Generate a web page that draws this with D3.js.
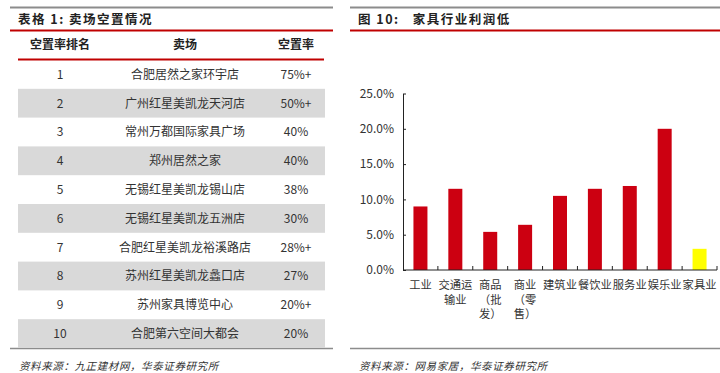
<!DOCTYPE html>
<html>
<head>
<meta charset="utf-8">
<script src="https://cdn.jsdelivr.net/npm/d3@7"></script>
<style>
  body { margin: 0; background: #fff; }
  svg text { font-family: "Noto Sans CJK SC", "Liberation Sans", sans-serif; white-space: pre; }
</style>
</head>
<body>
<svg id="chart" width="720" height="373"></svg>
<script>
// ---- table data ----
var tableHeaders = ["空置率排名", "卖场", "空置率"];
var ranks = ["1", "2", "3", "4", "5", "6", "7", "8", "9", "10"];
var stores = ["合肥居然之家环宇店", "广州红星美凯龙天河店", "常州万都国际家具广场", "郑州居然之家",
              "无锡红星美凯龙锡山店", "无锡红星美凯龙五洲店", "合肥红星美凯龙裕溪路店",
              "苏州红星美凯龙蠡口店", "苏州家具博览中心", "合肥第六空间大都会"];
var vacancy = ["75%+", "50%+", "40%", "40%", "38%", "30%", "28%+", "27%", "20%+", "20%"];

// ---- bar chart data ----
var categories = ["工业", "交通运输业", "商品（批发）", "商业（零售）", "建筑业", "餐饮业", "服务业", "娱乐业", "家具业"];
var labelLines = [["工业"], ["交通运", "输业"], ["商品", "（批", "发）"], ["商业", "（零", "售）"],
                  ["建筑业"], ["餐饮业"], ["服务业"], ["娱乐业"], ["家具业"]];
var profit = [0.090, 0.115, 0.054, 0.064, 0.105, 0.115, 0.119, 0.200, 0.030];
var yTicks = [0, 0.05, 0.10, 0.15, 0.20, 0.25];

var svg = d3.select("#chart");
var RED = "#c00000", GRAY = "#8c8c8c";

// ===== panel frames =====
function frame(x0, x1, title, source) {
  svg.append("line").attr("x1", x0).attr("x2", x1).attr("y1", 7.5).attr("y2", 7.5)
     .attr("stroke", GRAY).attr("stroke-width", 2);
  svg.append("line").attr("x1", x0).attr("x2", x1).attr("y1", 30.5).attr("y2", 30.5)
     .attr("stroke", RED).attr("stroke-width", 2);
  svg.append("text").attr("x", x0 + 8).attr("y", 24).attr("font-size", 12.5)
     .attr("font-weight", "bold").attr("fill", "#222").attr("letter-spacing", 1.5).text(title);
  svg.append("line").attr("x1", x0).attr("x2", x1).attr("y1", 348.5).attr("y2", 348.5)
     .attr("stroke", GRAY).attr("stroke-width", 1.5);
  svg.append("text").attr("x", x0 + 9).attr("y", 370).attr("font-size", 10.5)
     .attr("font-style", "italic").attr("fill", "#333").attr("letter-spacing", 0.6).text(source);
}
frame(10, 333, "表格 1: 卖场空置情况", "资料来源：九正建材网，华泰证券研究所");
frame(350, 720, "图 10:   家具行业利润低", "资料来源：网易家居，华泰证券研究所");

// ===== table =====
var tbl = svg.append("g");
var colX = [60, 185, 296];
var rowY = d3.scaleBand().domain(ranks).range([60, 348]);

tbl.selectAll("rect.stripe")
  .data(ranks.filter(function(d, i){ return i % 2 === 1; }))
  .enter().append("rect")
    .attr("class", "stripe")
    .attr("x", 18).attr("width", 307)
    .attr("y", function(d){ return rowY(d); })
    .attr("height", rowY.bandwidth())
    .attr("fill", "#d9d9d9");

tbl.selectAll("text.head")
  .data(tableHeaders)
  .enter().append("text")
    .attr("class", "head")
    .attr("x", function(d, i){ return colX[i]; })
    .attr("y", 49)
    .attr("text-anchor", "middle")
    .attr("font-size", 12).attr("font-weight", "bold").attr("fill", "#222")
    .text(function(d){ return d; });

tbl.append("line").attr("x1", 18).attr("x2", 324).attr("y1", 59.5).attr("y2", 59.5)
   .attr("stroke", RED).attr("stroke-width", 2);

var rows = tbl.selectAll("g.row")
  .data(ranks.map(function(r, i){ return [r, stores[i], vacancy[i]]; }))
  .enter().append("g")
    .attr("class", "row")
    .attr("transform", function(d){ return "translate(0," + (rowY(d[0]) + rowY.bandwidth() / 2) + ")"; });

rows.selectAll("text")
  .data(function(d){ return d; })
  .enter().append("text")
    .attr("x", function(d, i){ return colX[i]; })
    .attr("dy", "0.36em")
    .attr("text-anchor", "middle")
    .attr("font-size", 12).attr("fill", "#333")
    .text(function(d){ return d; });

// ===== bar chart =====
var x = d3.scaleBand().domain(categories).range([403, 717]).paddingInner(0).paddingOuter(0);
var y = d3.scaleLinear().domain([0, 0.25]).range([270, 93.5]);
var barW = 14;

svg.append("g").selectAll("rect")
  .data(profit)
  .enter().append("rect")
    .attr("x", function(d, i){ return x(categories[i]) + x.bandwidth() / 2 - barW / 2; })
    .attr("width", barW)
    .attr("y", function(d){ return y(d); })
    .attr("height", function(d){ return y(0) - y(d); })
    .attr("fill", function(d, i){ return categories[i] === "家具业" ? "#ffff00" : "#cc0011"; });

var yAxis = svg.append("g")
  .attr("transform", "translate(403,0)")
  .call(d3.axisLeft(y).tickValues(yTicks).tickFormat(d3.format(".1%")).tickSizeInner(-3).tickSizeOuter(0).tickPadding(9));
yAxis.select(".domain").attr("stroke", "#222");
yAxis.selectAll(".tick line").attr("stroke", "#222");
yAxis.selectAll("text").attr("font-family", "'Liberation Sans', Arial, sans-serif")
  .attr("font-size", 12).attr("fill", "#333");

// x axis line with inward ticks at band edges
var xAxis = svg.append("g").attr("transform", "translate(0,270)");
xAxis.append("line").attr("x1", 403).attr("x2", 717).attr("stroke", "#222");
xAxis.selectAll("line.tk")
  .data(categories)
  .enter().append("line")
    .attr("class", "tk")
    .attr("x1", function(d){ return x(d) + x.bandwidth(); })
    .attr("x2", function(d){ return x(d) + x.bandwidth(); })
    .attr("y1", 0).attr("y2", -4)
    .attr("stroke", "#222");

var labels = svg.append("g").selectAll("text")
  .data(categories)
  .enter().append("text")
    .attr("text-anchor", "middle")
    .attr("font-size", 11.3).attr("fill", "#333")
    .attr("x", function(d){ return x(d) + x.bandwidth() / 2; })
    .attr("y", 289);
labels.selectAll("tspan")
  .data(function(d, i){ return labelLines[i]; })
  .enter().append("tspan")
    .attr("x", function(){ return d3.select(this.parentNode).attr("x"); })
    .attr("dy", function(d, i){ return i === 0 ? 0 : 14.5; })
    .text(function(d){ return d; });
</script>
</body>
</html>
